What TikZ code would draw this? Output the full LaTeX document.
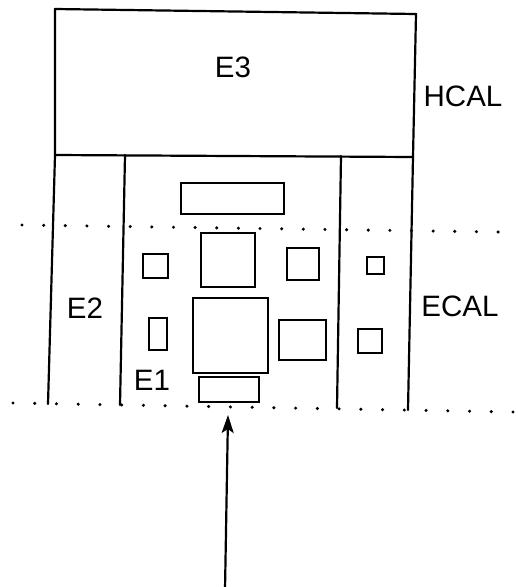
\documentclass[tikz,border=0pt]{standalone}
\usepackage{fontspec}
\setmainfont{Liberation Sans}
\usetikzlibrary{arrows.meta}
\begin{document}
\begin{tikzpicture}[x=1pt,y=-1pt,
  wall/.style={line width=2.2pt,line cap=round,line join=round},
  cell/.style={line width=2.4pt},
  lbl/.style={font=\fontsize{29.5}{30}\selectfont,inner sep=0pt},
  dot/.style={fill=black,draw=none}]
\useasboundingbox (0,0) rectangle (518,587);
% HCAL box
\draw[wall] (55,155) -- (55,9) -- (416,14) -- (413,157);
\draw[wall] (55,155) -- (413,157);
% ECAL walls
\draw[wall] (55,155) -- (48,404);
\draw[wall] (413,157) -- (408,410);
\draw[wall] (125,155) -- (120,405);
\draw[wall] (341,156) -- (337,408);
% dotted lines
\foreach \i in {0,...,22} {
  \fill[dot] ({22+\i*21.64},{225+\i*7/22}) circle (1.7);
}
\foreach \i in {0,...,23} {
  \fill[dot] ({13+\i*21.74},{403+\i*9/23}) circle (1.7);
}
% cells
\draw[cell] (181,183) rectangle (284,214);
\draw[cell] (143,254) rectangle (168,278);
\draw[cell] (201,233) rectangle (255,287);
\draw[cell] (287,248) rectangle (319,280);
\draw[cell] (367,257) rectangle (384,274);
\draw[cell] (149,318) rectangle (167,350);
\draw[cell] (193,298) rectangle (268,373);
\draw[cell] (279,320) rectangle (326,360);
\draw[cell] (358,329) rectangle (382,353);
\draw[cell] (199,377) rectangle (259,402);
% labels
\node[lbl] (e3) at (233,67) {E3};
\node[lbl] (hcal) at (463,96) {HCAL};
\node[lbl] (e2) at (85,308) {E2};
\node[lbl] (ecal) at (460,306) {ECAL};
\node[lbl] (e1) at (152,380) {E1};
% beam arrow
\coordinate (src) at (225,590);
\coordinate (tip) at (228,415);
\draw[line width=2.2pt,-{Stealth[length=18pt,width=12pt,inset=4pt]}] (src) -- (tip);
\end{tikzpicture}
\end{document}
